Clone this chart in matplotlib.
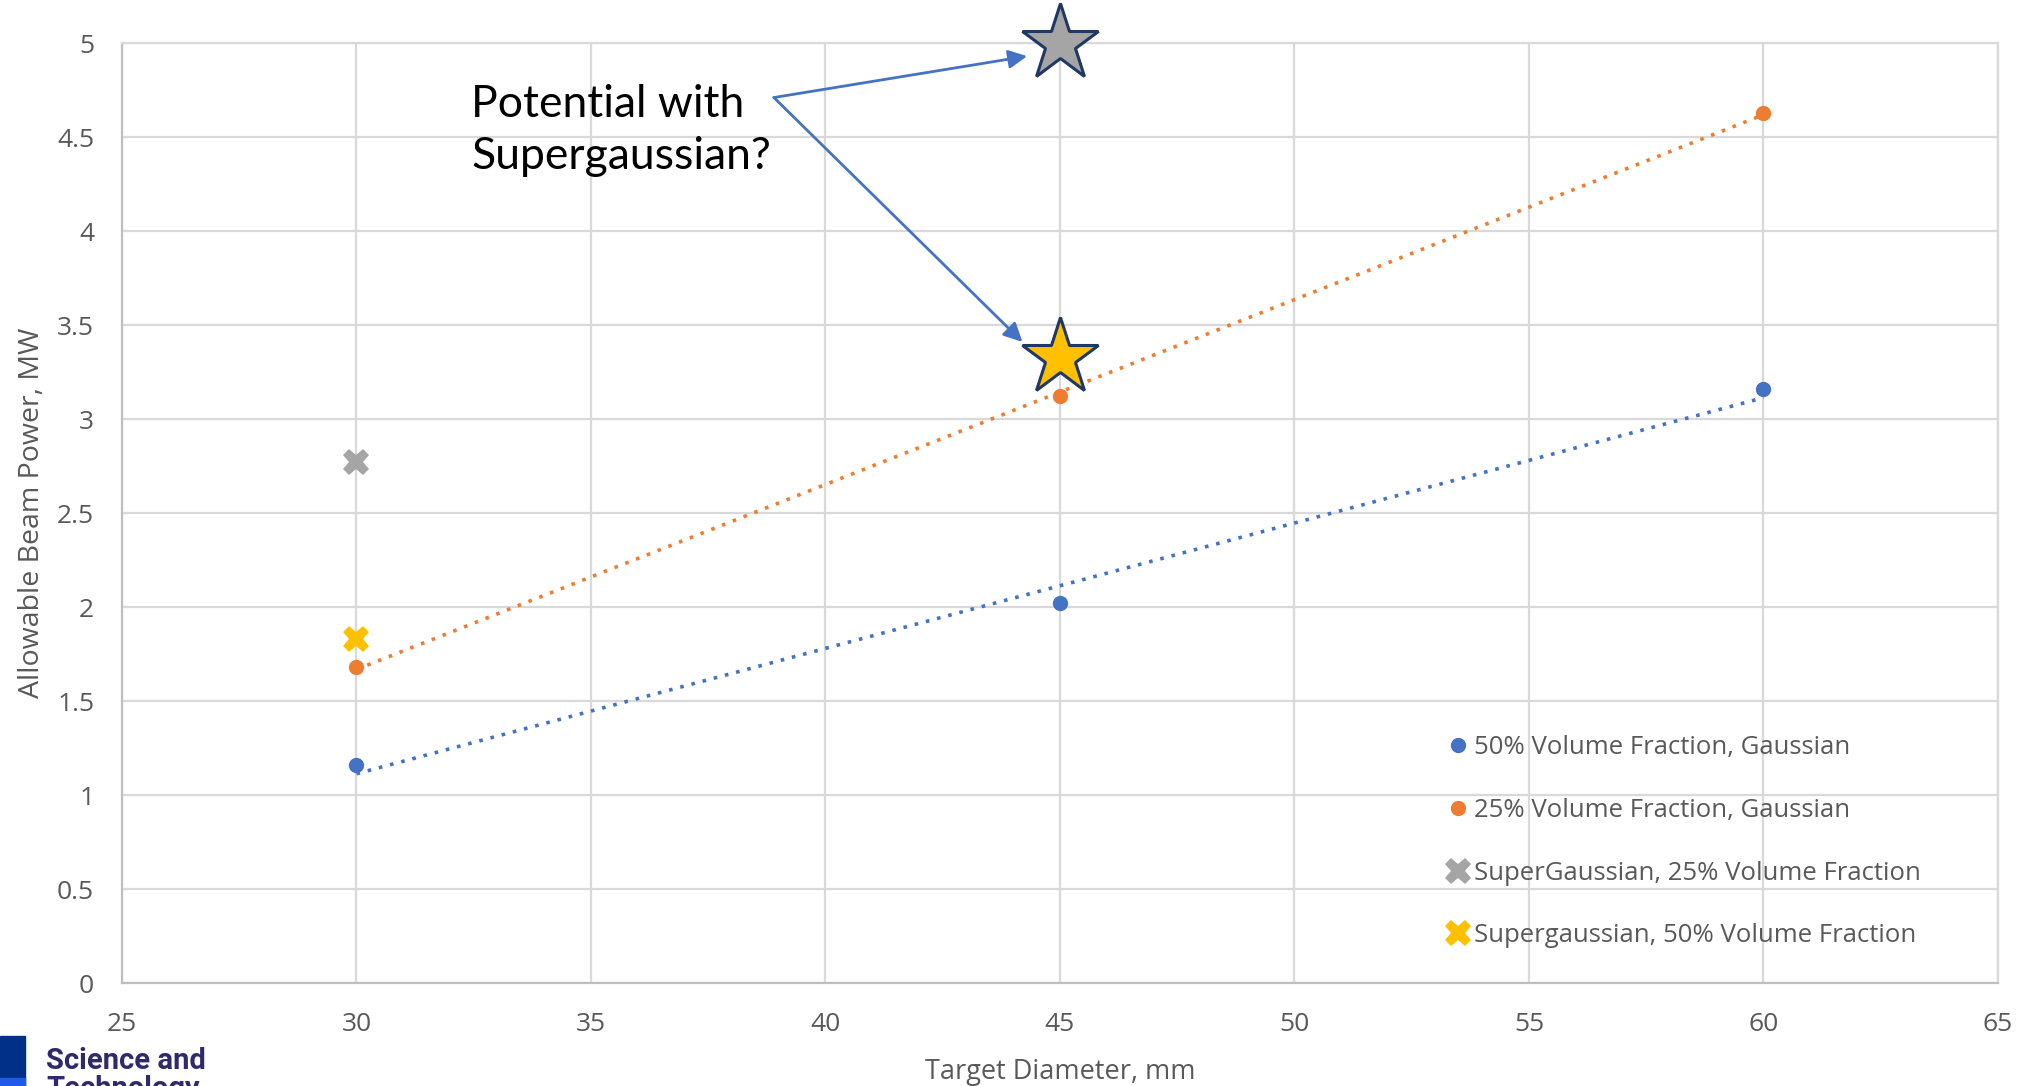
import matplotlib.pyplot as plt
import numpy as np
from matplotlib.patches import Rectangle
from matplotlib.ticker import FuncFormatter, MultipleLocator

# Target diameter (mm) vs allowable beam power (MW)
diameters = [30, 45, 60]
gauss_50 = [1.16, 2.02, 3.16]
gauss_25 = [1.68, 3.12, 4.63]

super_diam = [30]
super_25 = [2.77]
super_50 = [1.83]

# projected points for the Supergaussian case at 45 mm
potential_diam = [45, 45]
potential_power = [5.0, 3.33]
potential_colors = ["#A5A5A5", "#FFC000"]

BLUE = "#4472C4"
ORANGE = "#ED7D31"
GRID = "#D9D9D9"
TEXT = "#595959"

plt.rcParams["font.family"] = ["Open Sans", "DejaVu Sans"]

fig = plt.figure(figsize=(20.3, 10.86), dpi=100)
ax = fig.add_axes([0.0601, 0.0948, 0.9241, 0.8656])

ax.set_xlim(25, 65)
ax.set_ylim(0, 5)
ax.xaxis.set_major_locator(MultipleLocator(5))
ax.yaxis.set_major_locator(MultipleLocator(0.5))
ax.yaxis.set_major_formatter(FuncFormatter(lambda v, _: f"{v:g}"))
ax.grid(True, color=GRID, linewidth=1.6)
ax.set_axisbelow(True)
for side in ["top", "right"]:
    ax.spines[side].set_color(GRID)
    ax.spines[side].set_linewidth(1.6)
for side in ["left", "bottom"]:
    ax.spines[side].set_color("#BFBFBF")
    ax.spines[side].set_linewidth(1.6)
ax.tick_params(length=0, labelsize=19, labelcolor=TEXT)
ax.tick_params(axis="x", pad=21)
ax.tick_params(axis="y", pad=20)

ax.set_xlabel("Target Diameter, mm", fontsize=19.5, color=TEXT, labelpad=15)
ax.set_ylabel("Allowable Beam Power, MW", fontsize=20.5, color=TEXT, labelpad=8)

# linear trendlines
x_fit = np.array([diameters[0], diameters[-1]])
for ys, color in [(gauss_50, BLUE), (gauss_25, ORANGE)]:
    slope, icpt = np.polyfit(diameters, ys, 1)
    ax.plot(x_fit, slope * x_fit + icpt, linestyle=(0, (1, 2.2)),
            color=color, linewidth=2.6, zorder=2)

ax.plot(diameters, gauss_50, "o", color=BLUE, markersize=10,
        label="50% Volume Fraction, Gaussian", zorder=3)
ax.plot(diameters, gauss_25, "o", color=ORANGE, markersize=10,
        label="25% Volume Fraction, Gaussian", zorder=3)
ax.plot(super_diam, super_25, "X", color="#A5A5A5", markersize=19,
        markeredgewidth=0, label="SuperGaussian, 25% Volume Fraction", zorder=3)
ax.plot(super_diam, super_50, "X", color="#FFC000", markersize=19,
        markeredgewidth=0, label="Supergaussian, 50% Volume Fraction", zorder=3)

for xd, yp, fc in zip(potential_diam, potential_power, potential_colors):
    ax.plot(xd, yp, "*", markersize=58, markerfacecolor=fc,
            markeredgecolor="#1F3864", markeredgewidth=2.2, zorder=4,
            clip_on=False)

ax.legend(loc="lower left", bbox_to_anchor=(0.689, 0.0096), frameon=False,
          fontsize=18.5, labelcolor=TEXT, labelspacing=1.47, handletextpad=-0.1,
          handlelength=1.4, borderaxespad=0.6)

# annotation with arrows pointing at the projected points
ax.text(32.45, 4.285, "Potential with\nSupergaussian?", fontsize=32,
        family=["Lato", "DejaVu Sans"], color="black", va="bottom",
        ha="left", linespacing=1.34)
start = (38.9, 4.71)
for target in [(44.3, 4.93), (44.2, 3.41)]:
    ax.annotate("", xy=target, xytext=start,
                arrowprops=dict(arrowstyle="-|>", color=BLUE, lw=2,
                                mutation_scale=28, shrinkA=0, shrinkB=0))

# organisation logo in the lower-left corner
fig.patches.append(Rectangle((0, 0), 25 / 2030, 50 / 1086, color="#003087",
                             transform=fig.transFigure, figure=fig))
fig.patches.append(Rectangle((0, 0), 25 / 2030, 8 / 1086, color="#1E5AE6",
                             transform=fig.transFigure, figure=fig))
fig.text(46 / 2030, 1 - 1097 / 1086, "Science and\nTechnology",
         fontsize=21, fontweight="bold", color="#2E2A6B",
         family=["Roboto", "DejaVu Sans"], va="baseline", linespacing=1.0)

fig.savefig("out.png", dpi=100, facecolor="white")
